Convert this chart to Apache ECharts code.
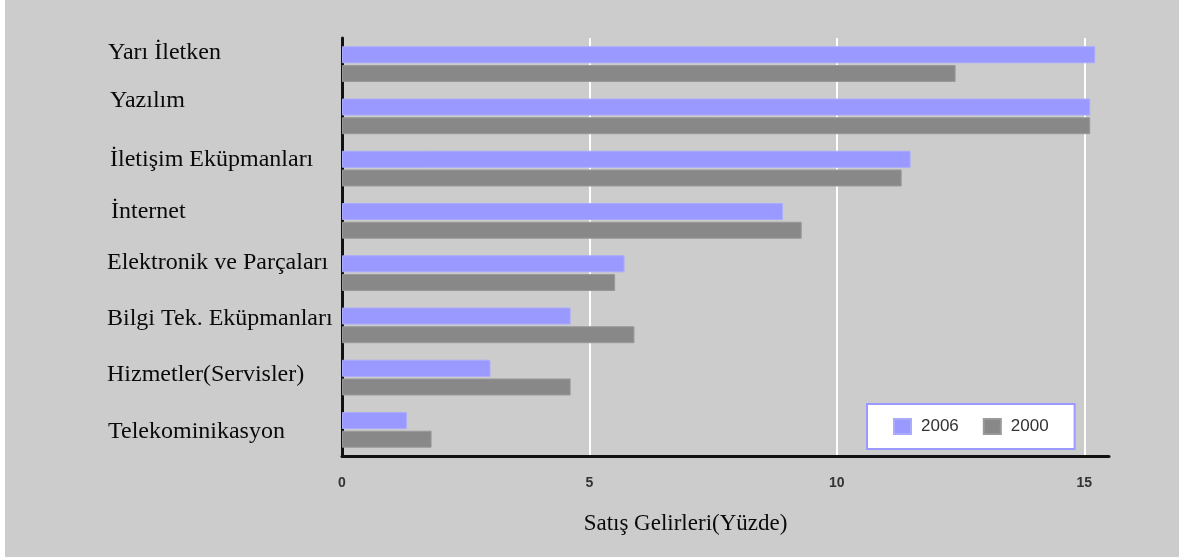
<!DOCTYPE html>
<html>
<head>
<meta charset="utf-8">
<script src="https://cdn.jsdelivr.net/npm/echarts@6/dist/echarts.min.js"></script>
<style>
  html, body { margin: 0; padding: 0; background: #ffffff; }
  #chart { position: absolute; left: 5px; top: 0; width: 1174px; height: 557px; background: #cccccc; }
</style>
</head>
<body>
<div id="chart"></div>
<script>
// Sector shares of sales revenue (percent), 2006 vs 2000
const categories = [
  'Yarı İletken',
  'Yazılım',
  'İletişim Eküpmanları',
  'İnternet',
  'Elektronik ve Parçaları',
  'Bilgi Tek. Eküpmanları',
  'Hizmetler(Servisler)',
  'Telekominikasyon'
];
const values2006 = [15.22, 15.12, 11.49, 8.91, 5.71, 4.62, 3.0, 1.31];
const values2000 = [12.4, 15.12, 11.31, 9.29, 5.52, 5.91, 4.62, 1.81];
const seriesNames = ['2006', '2000'];
const axisName = 'Satış Gelirleri(Yüzde)';

// small per-label offsets for the hand-placed category captions [dx, dy]
const labelNudge = [[1, -11], [3, -16], [3, -9], [4, -9], [0, -10], [0, -7], [0, -3], [1, 2]];

const rich = {};
labelNudge.forEach(function (n, i) {
  const dx = n[0], dy = n[1];
  rich['c' + i] = {
    fontFamily: 'Liberation Serif',
    fontSize: 24,
    color: '#0a0a0a',
    padding: [dy > 0 ? 2 * dy : 0, 0, dy < 0 ? -2 * dy : 0, dx]
  };
});

const chart = echarts.init(document.getElementById('chart'));
chart.setOption({
  animation: false,
  backgroundColor: '#cccccc',
  grid: { left: 337, right: 70, top: 38, bottom: 101, containLabel: false },
  legend: {
    data: seriesNames,
    left: 862,
    top: 404,
    orient: 'horizontal',
    backgroundColor: '#ffffff',
    borderColor: '#9999ff',
    borderWidth: 2,
    padding: [14, 26, 14, 26],
    itemWidth: 17,
    itemHeight: 15,
    itemGap: 24,
    icon: 'rect',
    textStyle: { fontFamily: 'Liberation Sans', fontSize: 17, color: '#333333', padding: [0, 0, 0, 5] }
  },
  xAxis: {
    type: 'value',
    min: 0,
    max: 15.5,
    interval: 5,
    name: axisName,
    nameLocation: 'middle',
    nameGap: 56,
    nameTextStyle: { fontFamily: 'Liberation Serif', fontSize: 23, color: '#0a0a0a', padding: [0, 80, 0, 0] },
    axisLine: { show: true, lineStyle: { color: '#111111', width: 3 } },
    axisTick: { show: false },
    axisLabel: {
      margin: 20,
      showMaxLabel: false,
      fontFamily: 'Liberation Sans',
      fontWeight: 'bold',
      fontSize: 14,
      color: '#333333'
    },
    splitLine: { show: true, showMinLine: false, showMaxLine: false, lineStyle: { color: '#ffffff', width: 2 } }
  },
  yAxis: {
    type: 'category',
    data: categories,
    inverse: true,
    axisLine: { show: true, lineStyle: { color: '#111111', width: 3 } },
    axisTick: { show: false },
    splitLine: { show: false },
    axisLabel: {
      align: 'left',
      margin: 235,
      formatter: function (value, index) { return '{c' + index + '|' + value + '}'; },
      rich: rich
    }
  },
  series: [
    {
      name: seriesNames[0],
      type: 'bar',
      data: values2006,
      barWidth: 17,
      barGap: '10%',
      itemStyle: { color: '#9999ff', borderColor: '#aaaaff', borderWidth: 1 }
    },
    {
      name: seriesNames[1],
      type: 'bar',
      data: values2000,
      barWidth: 17,
      barGap: '10%',
      itemStyle: { color: '#888888', borderColor: '#999999', borderWidth: 1 }
    }
  ]
});
</script>
</body>
</html>
